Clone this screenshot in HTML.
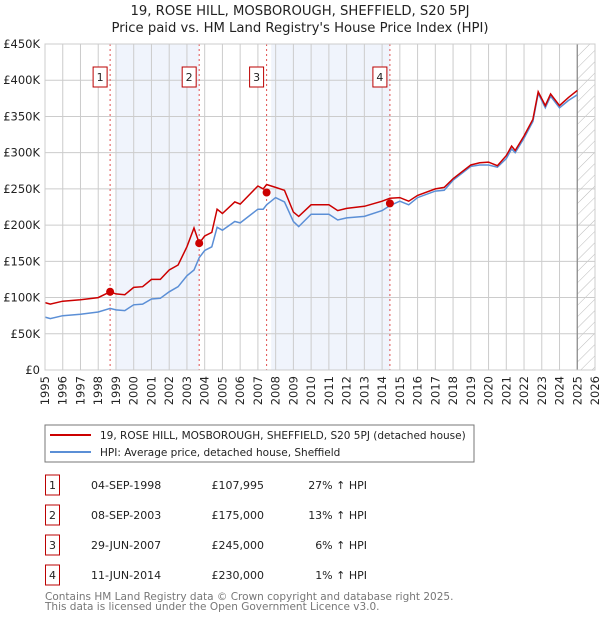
<!DOCTYPE html>
<html><head><meta charset="utf-8"><style>
body{margin:0;background:#fff;font-family:"DejaVu Sans","Liberation Sans",sans-serif;}
svg text{font-family:"DejaVu Sans","Liberation Sans",sans-serif;}
</style></head><body>
<svg id="c" width="600" height="620" viewBox="0 0 600 620" xmlns="http://www.w3.org/2000/svg">
<defs><pattern id="hatch" width="8" height="8" patternUnits="userSpaceOnUse" patternTransform="rotate(45)"><line x1="0" y1="0" x2="0" y2="8" stroke="#bbb" stroke-width="1"/></pattern></defs>
<text x="300" y="15" text-anchor="middle" font-size="13.2" fill="#222">19, ROSE HILL, MOSBOROUGH, SHEFFIELD, S20 5PJ</text>
<text x="300" y="32" text-anchor="middle" font-size="13.2" fill="#222">Price paid vs. HM Land Registry's House Price Index (HPI)</text>
<g id="plot"></g>
<rect x="45" y="425" width="429" height="37" fill="#fff" stroke="#777"/>
<line x1="50" y1="435" x2="91" y2="435" stroke="#cc0000" stroke-width="2"/>
<text x="100" y="439" font-size="10.5" fill="#222">19, ROSE HILL, MOSBOROUGH, SHEFFIELD, S20 5PJ (detached house)</text>
<line x1="50" y1="452" x2="91" y2="452" stroke="#5b8fd6" stroke-width="2"/>
<text x="100" y="456" font-size="10.5" fill="#222">HPI: Average price, detached house, Sheffield</text>
<g id="table"></g>
<text x="45" y="600" font-size="10.5" fill="#777">Contains HM Land Registry data © Crown copyright and database right 2025.</text>
<text x="45" y="610" font-size="10.5" fill="#777">This data is licensed under the Open Government Licence v3.0.</text>
</svg>
<script>
const years=[1995,1996,1997,1998,1999,2000,2001,2002,2003,2004,2005,2006,2007,2008,2009,2010,2011,2012,2013,2014,2015,2016,2017,2018,2019,2020,2021,2022,2023,2024,2025,2026];
const yTicks=[0,50000,100000,150000,200000,250000,300000,350000,400000,450000];
const yTickLabels=["£0","£50K","£100K","£150K","£200K","£250K","£300K","£350K","£400K","£450K"];
const times=[1995,1995.3,1996,1997,1998,1998.67,1999,1999.5,2000,2000.5,2001,2001.5,2002,2002.5,2003,2003.4,2003.69,2004,2004.4,2004.7,2005,2005.7,2006,2007,2007.3,2007.49,2008,2008.5,2009,2009.3,2010,2011,2011.5,2012,2013,2014,2014.44,2015,2015.5,2016,2017,2017.5,2018,2019,2019.5,2020,2020.5,2021,2021.3,2021.5,2022,2022.5,2022.8,2023.2,2023.5,2024,2024.5,2025];
const hpiValues=[73000,71000,75000,77000,80000,85000,83000,82000,90000,91000,98000,99000,108000,115000,130000,138000,155000,165000,170000,197000,193000,205000,203000,222000,222000,228000,238000,232000,205000,198000,215000,215000,207000,210000,212000,220000,227000,233000,228000,238000,247000,248000,262000,281000,283000,283000,280000,292000,305000,300000,320000,343000,382000,362000,378000,362000,372000,380000];
const priceValues=[93000,91000,95000,97000,100000,108000,105000,104000,114000,115000,125000,125000,138000,145000,170000,196000,175000,185000,190000,222000,216000,232000,229000,254000,250000,256000,252000,248000,218000,212000,228000,228000,220000,223000,226000,233000,237000,238000,233000,241000,250000,252000,264000,283000,286000,287000,282000,296000,309000,303000,323000,346000,384000,365000,381000,365000,376000,386000];
const saleTimes=[1998.67,2003.69,2007.49,2014.44];
const salePrices=[107995,175000,245000,230000];
const saleLabels=["1","2","3","4"];
const saleDates=["04-SEP-1998","08-SEP-2003","29-JUN-2007","11-JUN-2014"];
const salePriceText=["£107,995","£175,000","£245,000","£230,000"];
const saleHpiText=["27% ↑ HPI","13% ↑ HPI","6% ↑ HPI","1% ↑ HPI"];

const X0=45,X1=595,Y0=370,Y1=44;
const xs=t=>X0+(t-1995)/(2026-1995)*(X1-X0);
const ys=v=>Y0-v/450000*(Y0-Y1);
const NS="http://www.w3.org/2000/svg";
const plot=document.getElementById('plot');
function mk(tag,attrs,parent){const e=document.createElementNS(NS,tag);for(const k in attrs)e.setAttribute(k,attrs[k]);(parent||plot).appendChild(e);return e;}

let e;
e=mk('rect',{x:X0,y:Y1,width:X1-X0,height:Y0-Y1,fill:'#fff'});


e=mk('rect',{x:xs(1999),y:Y1,width:xs(saleTimes[1])-xs(1999),height:Y0-Y1,fill:'#f0f4fc'});


e=mk('rect',{x:xs(2007.75),y:Y1,width:xs(saleTimes[3])-xs(2007.75),height:Y0-Y1,fill:'#f0f4fc'});


e=mk('rect',{x:xs(2025),y:Y1,width:X1-xs(2025),height:Y0-Y1,fill:'url(#hatch)'});



yTicks.forEach((v,i)=>{
  e=mk('line',{x1:X0,x2:X1,y1:ys(v),y2:ys(v),stroke:'#ccc','stroke-width':1});
  
  
  e=mk('text',{x:40,y:ys(v)+4,'text-anchor':'end','font-size':11.5,fill:'#222'});
  e.textContent=yTickLabels[i];
  
  
});
years.forEach(yr=>{
  e=mk('line',{x1:xs(yr),x2:xs(yr),y1:Y1,y2:Y0,stroke:'#ccc','stroke-width':1});
  
  
  e=mk('text',{x:0,y:0,'text-anchor':'end','font-size':11.5,fill:'#222',transform:`translate(${xs(yr)+4},376) rotate(-90)`});
  e.textContent=yr;
  
  
});
e=mk('line',{x1:xs(2025),x2:xs(2025),y1:Y1,y2:Y0,stroke:'#888','stroke-width':1.2});



saleTimes.forEach((t,i)=>{
  e=mk('line',{x1:xs(t),x2:xs(t),y1:Y1,y2:Y0,stroke:'#e05050','stroke-width':1,'stroke-dasharray':'2,3'});
  
  
});

function path(vals){return vals.map((v,i)=>(i?'L':'M')+xs(times[i]).toFixed(1)+','+ys(v).toFixed(1)).join(' ');}
e=mk('path',{d:path(hpiValues),fill:'none',stroke:'#5b8fd6','stroke-width':1.5});


e=mk('path',{d:path(priceValues),fill:'none',stroke:'#cc0000','stroke-width':1.5});



saleTimes.forEach((t,i)=>{
  e=mk('circle',{cx:xs(t),cy:ys(salePrices[i]),r:4,fill:'#cc0000'});
  
  
  e=mk('rect',{x:xs(t)-17,y:67,width:14,height:20,fill:'#fff',stroke:'#b00','stroke-width':1});
  
  
  e=mk('text',{x:xs(t)-10,y:81,'text-anchor':'middle','font-size':11,fill:'#222'});
  e.textContent=saleLabels[i];
  
  
});
e=mk('rect',{x:X0,y:Y1,width:X1-X0,height:Y0-Y1,fill:'none',stroke:'#ccc'});



const tbl=document.getElementById('table');
saleLabels.forEach((l,i)=>{
  const y0=475+i*30;
  e=mk('rect',{x:45.5,y:y0,width:14,height:20,fill:'#fff',stroke:'#b00'},tbl);
  
  
  e=mk('text',{x:52.5,y:y0+14,'text-anchor':'middle','font-size':11,fill:'#222'},tbl);
  e.textContent=l;
  
  
  e=mk('text',{x:91,y:y0+14,'font-size':11,fill:'#222'},tbl);
  e.textContent=saleDates[i];
  
  
  e=mk('text',{x:264,y:y0+14,'text-anchor':'end','font-size':11,fill:'#222'},tbl);
  e.textContent=salePriceText[i];
  
  
  e=mk('text',{x:367,y:y0+14,'text-anchor':'end','font-size':11,fill:'#222'},tbl);
  e.textContent=saleHpiText[i];
  
  
});
</script>
</body></html>
